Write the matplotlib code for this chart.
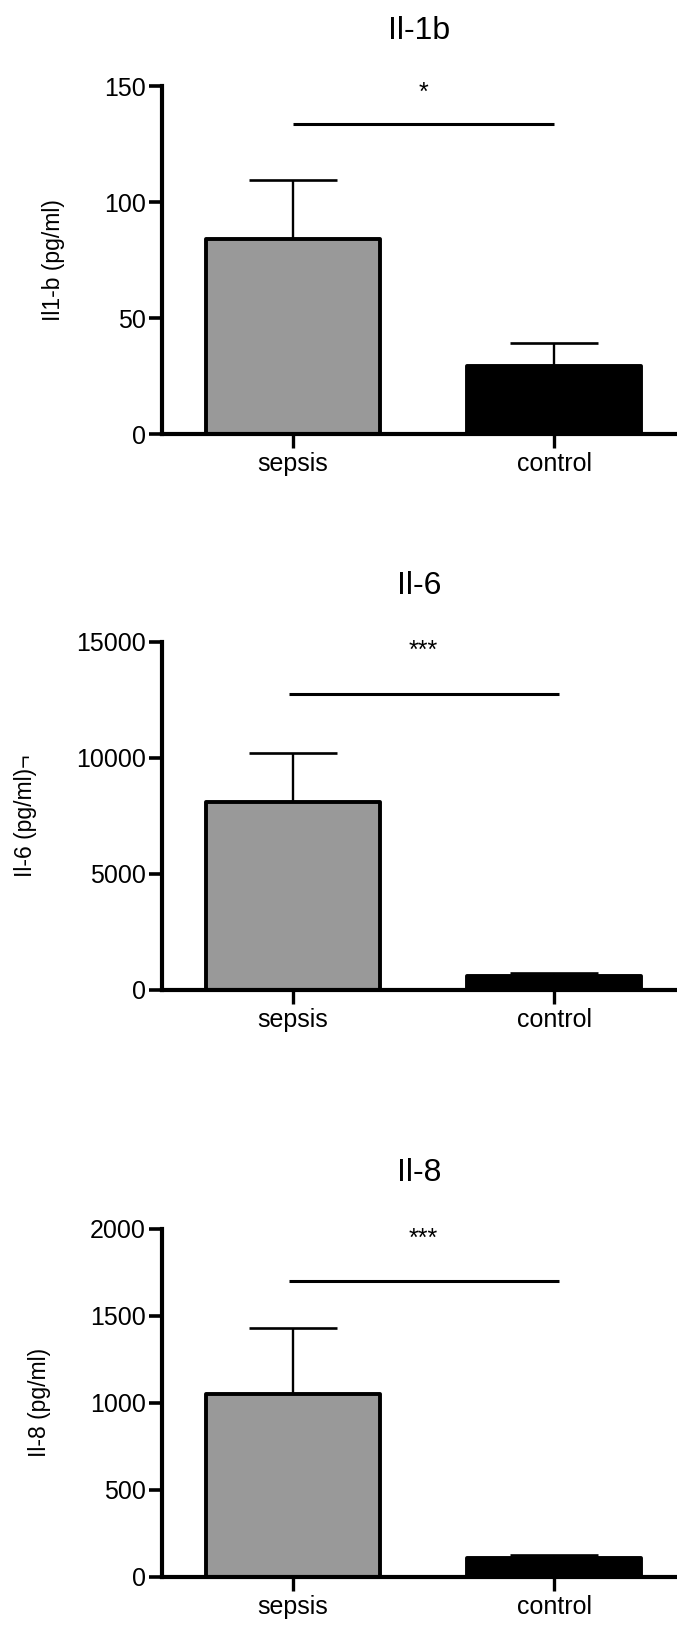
import matplotlib
matplotlib.use("Agg")
import matplotlib.pyplot as plt
import numpy as np

plt.rcParams['font.family'] = ['Liberation Sans', 'DejaVu Sans']

groups = ["sepsis", "control"]

titles = ["Il-1b", "Il-6", "Il-8"]
ylabels = ["Il1-b (pg/ml)", "Il-6 (pg/ml)¬", "Il-8 (pg/ml)"]

il1b_mean = [84, 29.5]
il1b_sem = [25.5, 9.8]
il6_mean = [8110, 580]
il6_sem = [2090, 170]
il8_mean = [1052, 110]
il8_sem = [378, 12]

ymax = [150, 15000, 2000]
yticks = [[0, 50, 100, 150], [0, 5000, 10000, 15000], [0, 500, 1000, 1500, 2000]]
sig_level = [133.5, 12750, 1700]
sig_span = [(0.0, 1.0), (-0.015, 1.02), (-0.015, 1.02)]
star_y = [144, 14300, 1900]
stars = ["*", "***", "***"]

means = [il1b_mean, il6_mean, il8_mean]
sems = [il1b_sem, il6_sem, il8_sem]
colors = ["#999999", "#000000"]

fig = plt.figure(figsize=(6.77, 16.25), dpi=100)
bottoms = [0.7327, 0.3908, 0.0297]

x = np.arange(len(groups))

for i in range(3):
    ax = fig.add_axes([0.2393, bottoms[i], 0.7607, 0.2143])

    # error bars (upper only) drawn under the bars
    ax.errorbar(x, means[i], yerr=[np.zeros(len(x)), sems[i]], fmt='none',
                ecolor='black', elinewidth=1.7, capsize=32, capthick=1.9, zorder=1)
    ax.bar(x, means[i], width=0.667, color=colors, edgecolor='black',
           linewidth=2.8, zorder=2, joinstyle='round')

    # significance bracket
    ax.plot(sig_span[i], [sig_level[i], sig_level[i]], color='black',
            linewidth=2.2, solid_capstyle='butt', zorder=3)
    ax.text(0.5, star_y[i], stars[i], ha='center', va='baseline', fontsize=18)

    ax.set_xlim(-0.5, 1.47)
    ax.set_ylim(0, ymax[i])
    ax.set_yticks(yticks[i])
    ax.set_xticks(x)
    ax.set_xticklabels(groups)

    ax.spines['top'].set_visible(False)
    ax.spines['right'].set_visible(False)
    for side in ['left', 'bottom']:
        ax.spines[side].set_linewidth(3)
    ax.tick_params(axis='y', length=9.5, width=2.6, labelsize=18, pad=2)
    ax.tick_params(axis='x', length=10, width=2.4, labelsize=18, pad=3)

    ax.set_ylabel(ylabels[i], fontsize=16.5, labelpad=28)
    ax.set_title(titles[i], fontsize=23, pad=34)

fig.savefig("out.png", dpi=100)
